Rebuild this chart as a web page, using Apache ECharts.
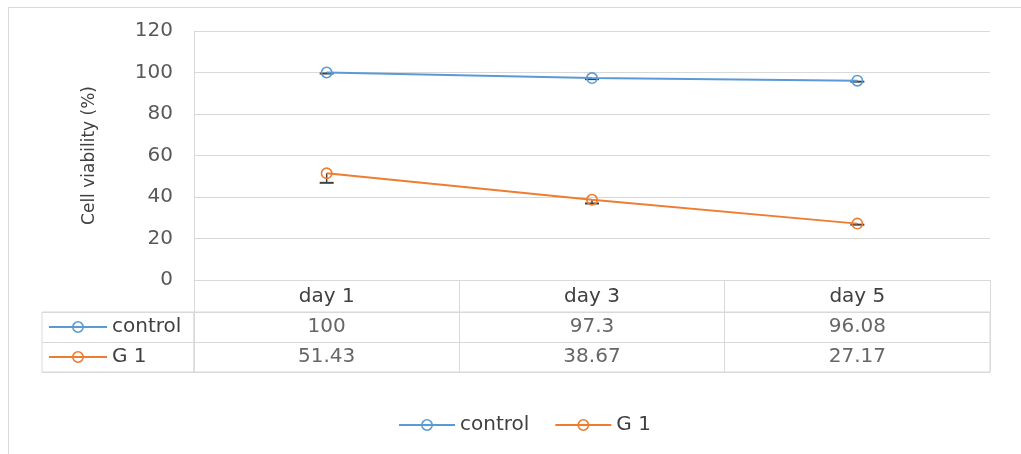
<!DOCTYPE html>
<html><head><meta charset="utf-8">
<script src="https://cdn.jsdelivr.net/npm/echarts@6/dist/echarts.min.js"></script>
<style>
html,body{margin:0;padding:0;background:#fff;overflow:hidden}
#frame{position:absolute;left:8px;top:7px;width:1040px;height:470px;border:1px solid #d9d9d9;box-sizing:border-box}
#c{position:absolute;left:0;top:0;width:1021px;height:454px}
</style></head><body>
<div id="frame"></div><div id="c"></div>
<script>
const categories = ['day 1', 'day 3', 'day 5'];
const seriesNames = ['control', 'G 1'];
const controlValues = [100, 97.3, 96.08];
const g1Values = [51.43, 38.67, 27.17];
const controlErrMinus = [0.5, 0.5, 0.5];
const g1ErrMinus = [4.6, 1.8, 0.5];
const yMin = 0, yMax = 120, yStep = 20;

const BLUE = '#5B9BD5', ORANGE = '#ED7D31', GRIDC = '#d9d9d9';
const FONT = 'DejaVu Sans';
const ring = 'path://M0,6A6,6 0 1,1 12,6A6,6 0 1,1 0,6ZM1.6,6A4.4,4.4 0 1,0 10.4,6A4.4,4.4 0 1,0 1.6,6Z';

const chart = echarts.init(document.getElementById('c'));

function errSeries(name, vals, errs) {
  return {
    type: 'custom', name: name + ' err', xAxisIndex: 0, yAxisIndex: 0, z: 1,
    data: vals.map((v, i) => [i, v, errs[i]]),
    renderItem: function (params, api) {
      const c = api.coord([api.value(0), api.value(1)]);
      const lo = api.coord([api.value(0), api.value(1) - api.value(2)]);
      const w = 7;
      return { type: 'group', children: [
        { type: 'line', shape: { x1: c[0], y1: c[1], x2: lo[0], y2: lo[1] }, style: { stroke: '#404040', lineWidth: 1.5 } },
        { type: 'line', shape: { x1: lo[0] - w, y1: lo[1], x2: lo[0] + w, y2: lo[1] }, style: { stroke: '#404040', lineWidth: 2 } }
      ]};
    }
  };
}

const tableData = [];
[controlValues, g1Values].forEach((arr, r) => arr.forEach((v, c) => tableData.push([c, r, v])));

chart.setOption({
  animation: false,
  textStyle: { fontFamily: FONT },
  grid: [
    { left: 194, right: 31, top: 31, bottom: 174 },
    { left: 194, right: 31, top: 312, height: 60, show: true, borderColor: GRIDC, borderWidth: 1 },
    { left: 42, width: 152, top: 312, height: 60, show: true, borderColor: GRIDC, borderWidth: 1 }
  ],
  xAxis: [
    { gridIndex: 0, type: 'category', data: categories, boundaryGap: true,
      axisLine: { lineStyle: { color: GRIDC } },
      axisTick: { show: true, interval: 0, length: 32, lineStyle: { color: GRIDC } },
      axisLabel: { fontSize: 20, color: '#404040', margin: 7, fontFamily: FONT } },
    { gridIndex: 1, type: 'category', data: categories, boundaryGap: true,
      axisLine: { show: false }, axisTick: { show: false }, axisLabel: { show: false },
      splitLine: { show: true, interval: 0, lineStyle: { color: GRIDC } } },
    { gridIndex: 2, type: 'value', show: false, min: 0, max: 1 }
  ],
  yAxis: [
    { gridIndex: 0, type: 'value', min: yMin, max: yMax, interval: yStep,
      axisLine: { show: true, lineStyle: { color: GRIDC } },
      axisTick: { show: false },
      splitLine: { lineStyle: { color: GRIDC } },
      axisLabel: { fontSize: 20, color: '#595959', margin: 21, fontFamily: FONT },
      name: 'Cell viability (%)', nameLocation: 'middle', nameRotate: 90, nameGap: 96,
      nameTextStyle: { fontSize: 17, color: '#404040', fontFamily: FONT } },
    { gridIndex: 1, type: 'category', data: seriesNames, inverse: true,
      axisLine: { show: false }, axisTick: { show: false }, axisLabel: { show: false },
      splitLine: { show: true, interval: 0, lineStyle: { color: GRIDC } } },
    { gridIndex: 2, type: 'category', data: seriesNames, inverse: true,
      axisLine: { show: false }, axisTick: { show: false }, axisLabel: { show: false },
      splitLine: { show: true, interval: 0, lineStyle: { color: GRIDC } } }
  ],
  legend: [
    { data: seriesNames, left: 398, top: 415, itemWidth: 56, itemHeight: 15, itemGap: 25,
      padding: 0, textStyle: { fontSize: 20, color: '#404040', fontFamily: FONT } },
    { data: seriesNames, orient: 'vertical', left: 48, top: 317, itemWidth: 58, itemHeight: 15, itemGap: 10,
      padding: 0, selectedMode: false, textStyle: { fontSize: 20, color: '#404040', fontFamily: FONT } }
  ],
  series: [
    errSeries('control', controlValues, controlErrMinus),
    errSeries('G 1', g1Values, g1ErrMinus),
    { type: 'line', name: 'control', data: controlValues, xAxisIndex: 0, yAxisIndex: 0, z: 3,
      symbol: ring, symbolSize: 12, color: BLUE, lineStyle: { width: 2, color: BLUE }, itemStyle: { color: BLUE } },
    { type: 'line', name: 'G 1', data: g1Values, xAxisIndex: 0, yAxisIndex: 0, z: 3,
      symbol: ring, symbolSize: 12, color: ORANGE, lineStyle: { width: 2, color: ORANGE }, itemStyle: { color: ORANGE } },
    { type: 'scatter', xAxisIndex: 1, yAxisIndex: 1, symbolSize: 0, data: tableData, silent: true,
      label: { show: true, position: 'inside', fontSize: 20, color: '#404040', fontFamily: FONT,
        formatter: p => String(p.value[2]) } }
  ]
});
</script>
</body></html>
